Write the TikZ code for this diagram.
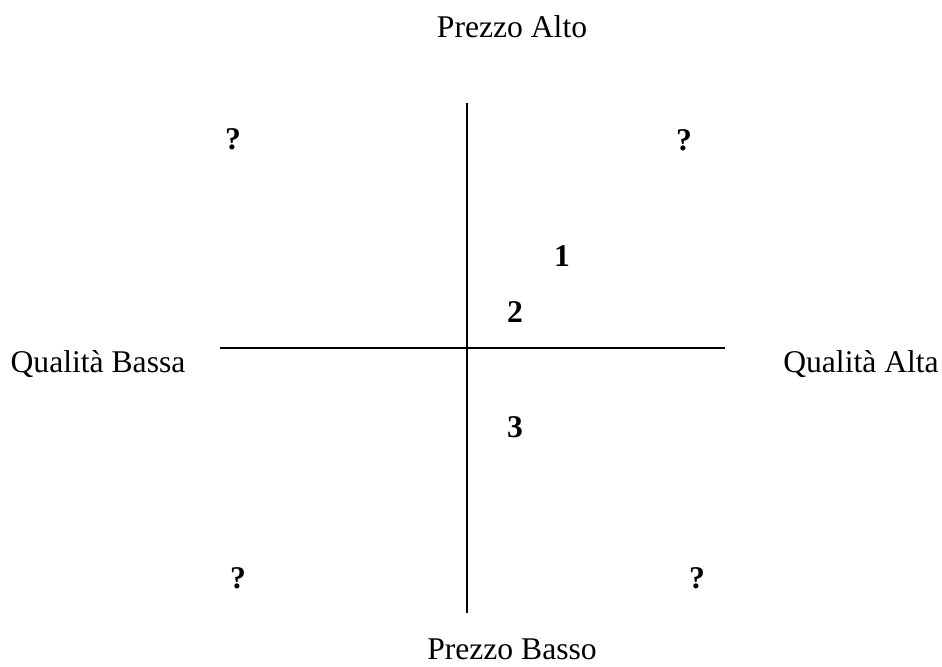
\documentclass[tikz,border=0pt]{standalone}
\usepackage{fontspec}
\setmainfont{Liberation Serif}
\usetikzlibrary{positioning}

\begin{document}
\begin{tikzpicture}[x=0.02cm, y=-0.02cm,
    axislabel/.style={font=\fontsize{18}{22}\selectfont, inner sep=0pt},
    qmark/.style={font=\fontsize{18}{22}\selectfont\bfseries, inner sep=0pt}]
  \useasboundingbox (0,0) rectangle (942,666);
  % axes
  \coordinate (top) at (467,103);
  \coordinate (bottom) at (467,613);
  \coordinate (left) at (220,348);
  \coordinate (right) at (725,348);
  \draw[line width=0.9pt] (top) -- (bottom);
  \draw[line width=0.9pt] (left) -- (right);
  % axis labels
  \node[axislabel] (alto) at (512,27) {Prezzo Alto};
  \node[axislabel] (basso) at (512,649) {Prezzo Basso};
  \node[axislabel] (qbassa) at (98,364) {Qualità Bassa};
  \node[axislabel] (qalta) at (861,364) {Qualità Alta};
  % quadrants
  \node[qmark] (q1) at (233,139) {?};
  \node[qmark] (q2) at (684,140) {?};
  \node[qmark] (q3) at (238,578) {?};
  \node[qmark] (q4) at (697,578) {?};
  % positions
  \node[qmark] (p1) at (562,256) {1};
  \node[qmark] (p2) at (515,312) {2};
  \node[qmark] (p3) at (515,427) {3};
\end{tikzpicture}
\end{document}
